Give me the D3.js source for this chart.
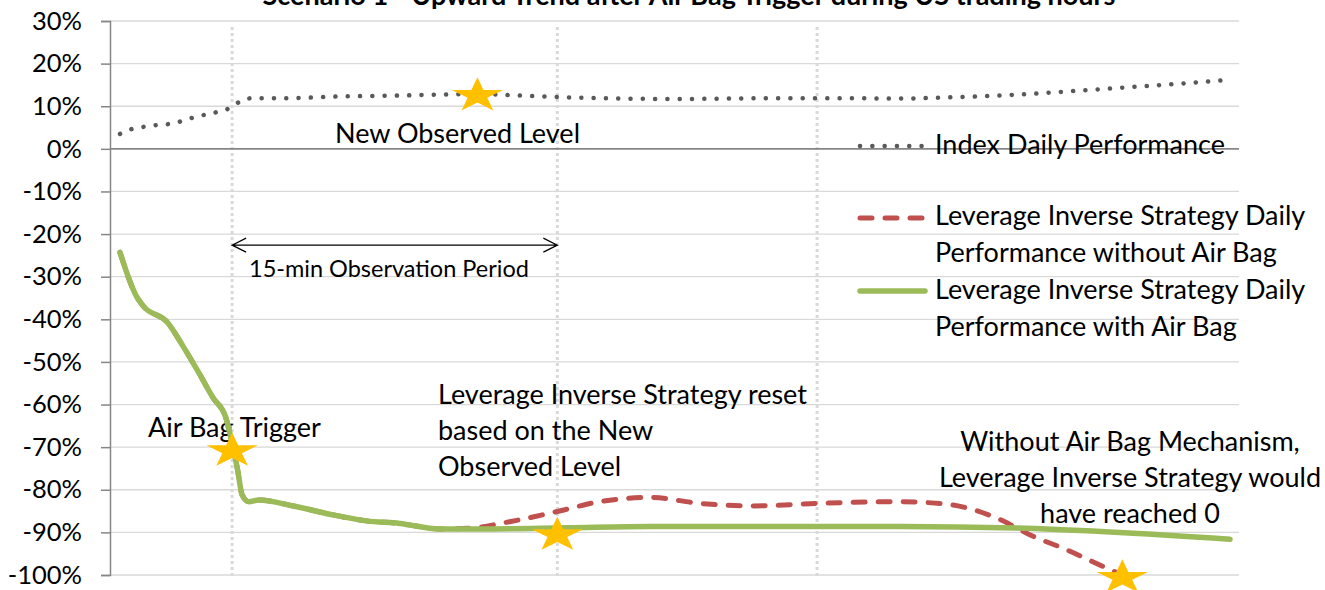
<!DOCTYPE html>
<html>
<head>
<meta charset="utf-8">
<title>Scenario 1 - Upward Trend after Air Bag Trigger</title>
<script src="https://cdn.jsdelivr.net/npm/d3@7"></script>
<style>
  body { margin: 0; background: #fff; }
  text { font-family: Lato, "Open Sans", sans-serif; fill: #000; }
</style>
</head>
<body>
<div id="container"></div>
<script>
// Chart size
const width = 1325;
const height = 590;

// Data (x = time step 0..100, y = performance in %)
const indexSteps = [0, 1, 2, 3, 4, 5, 6, 7, 8, 9, 10, 11, 12, 15, 20, 25, 30, 32, 35, 40, 45, 50, 55, 60, 65, 70, 75, 80, 85, 90, 95, 100];
const indexPerf = [3.5, 4.6, 5.1, 5.5, 5.7, 6.1, 6.9, 7.6, 8.2, 8.8, 9.7, 11.4, 11.9, 11.9, 12.3, 12.5, 12.8, 12.9, 12.6, 12.1, 11.8, 11.7, 11.8, 11.9, 11.9, 11.8, 12.1, 12.6, 13.4, 14.3, 15.2, 16.2];

const noBagSteps = [0, 1.5, 2.1, 4.3, 5.7, 7.2, 8.4, 9.5, 10.1, 10.6, 11, 11.6, 12.5, 15.6, 19.2, 22.2, 25.2, 28.8, 31.5, 35.1, 39.4, 43.2, 47.7, 52.3, 57, 62.8, 70.3, 72.7, 75.7, 79.3, 82, 85.3, 88.9, 90.3];
const noBagPerf = [-24.3, -34.7, -36.9, -40.8, -46.4, -53, -58.5, -62.8, -69.1, -75.4, -81.2, -82.8, -82.4, -83.8, -85.9, -87.3, -87.9, -89.2, -89.0, -87.5, -85.1, -82.8, -81.8, -83.2, -83.8, -83.2, -82.8, -83.0, -83.9, -87.0, -90.6, -94.1, -98.4, -100];

const withBagSteps = [0, 1.5, 2.1, 4.3, 5.7, 7.2, 8.4, 9.5, 10.1, 10.6, 11, 11.6, 12.5, 15.6, 19.2, 22.2, 25.2, 28.8, 32.7, 40.3, 47.7, 70.3, 80.8, 100];
const withBagPerf = [-24.3, -34.7, -36.9, -40.8, -46.4, -53, -58.5, -62.8, -69.1, -75.4, -81.2, -82.8, -82.4, -83.8, -85.9, -87.3, -87.9, -89.2, -89.2, -88.9, -88.6, -88.6, -89.0, -91.6];

// trigger, end of observation period, other vertical marker
const markerSteps = [10.1, 39.4, 62.8];

// stars
const starSteps = [10.1, 32.2, 39.4, 90.3];
const starPerf = [-70.9, 12.5, -90.6, -100.6];

const yTicks = [30, 20, 10, 0, -10, -20, -30, -40, -50, -60, -70, -80, -90, -100];

const svg = d3.create("svg")
    .attr("width", width)
    .attr("height", height);

const x = d3.scaleLinear().domain([0, 100]).range([120, 1230]);
const y = d3.scaleLinear().domain([-100, 30]).range([575, 21]);
const plotLeft = 110, plotRight = 1239;

// Title (cut off at the top like the original)
svg.append("text")
    .attr("x", 689)
    .attr("y", 5)
    .attr("text-anchor", "middle")
    .style("font-size", "27px")
    .style("font-weight", "bold")
    .text("Scenario 1 - Upward Trend after Air Bag Trigger during US trading hours");

// horizontal gridlines
svg.append("g")
    .selectAll("line")
    .data(yTicks.filter(d => d !== 0))
    .join("line")
    .attr("x1", plotLeft)
    .attr("x2", plotRight)
    .attr("y1", d => y(d))
    .attr("y2", d => y(d))
    .attr("stroke", "#d9d9d9")
    .attr("stroke-width", 1.3);

// vertical dotted markers
svg.append("g")
    .selectAll("line")
    .data(markerSteps)
    .join("line")
    .attr("x1", d => x(d))
    .attr("x2", d => x(d))
    .attr("y1", 27)
    .attr("y2", 579)
    .attr("stroke", "#d9d9d9")
    .attr("stroke-width", 3)
    .attr("stroke-dasharray", "3,3");

// y axis
const yAxis = d3.axisLeft(y)
    .tickValues(yTicks)
    .tickSize(9)
    .tickFormat(d => d + "%");
const gy = svg.append("g")
    .attr("transform", `translate(${plotLeft},0)`)
    .call(yAxis);
gy.select(".domain").attr("stroke", "#868686").attr("stroke-width", 1.5);
gy.selectAll(".tick line").attr("stroke", "#868686").attr("stroke-width", 1.5);
gy.selectAll(".tick text")
    .attr("x", -28)
    .style("font-size", "25.5px")
    .style("font-family", "Lato, sans-serif")
    .attr("fill", "#000");

// horizontal axis at 0
svg.append("line")
    .attr("x1", plotLeft)
    .attr("x2", plotRight)
    .attr("y1", y(0))
    .attr("y2", y(0))
    .attr("stroke", "#868686")
    .attr("stroke-width", 1.8);

// annotations
const note = (tx, ty, lines, anchor, size) => {
    const t = svg.append("text")
        .attr("x", tx)
        .attr("y", ty)
        .attr("text-anchor", anchor || "start")
        .style("font-size", (size || 27) + "px");
    lines.forEach((l, i) => {
        t.append("tspan").attr("x", tx).attr("dy", i === 0 ? 0 : 36).text(l);
    });
};

note(335, 143, ["New Observed Level"]);
note(249, 277, ["15-min Observation Period"], "start", 23.5);
note(148, 437, ["Air Bag Trigger"]);
note(438, 404, ["Leverage Inverse Strategy reset", "based on the New", "Observed Level"]);
note(1130, 451, ["Without Air Bag Mechanism,", "Leverage Inverse Strategy would", "have reached 0"], "middle");

// double arrow for the observation period
const arrowY = y(-22.6);
const ax1 = x(markerSteps[0]), ax2 = x(markerSteps[1]);
svg.append("path")
    .attr("d", `M${ax1},${arrowY}H${ax2}M${ax1 + 14},${arrowY - 7}L${ax1},${arrowY}L${ax1 + 14},${arrowY + 7}M${ax2 - 14},${arrowY - 7}L${ax2},${arrowY}L${ax2 - 14},${arrowY + 7}`)
    .attr("fill", "none")
    .attr("stroke", "#000")
    .attr("stroke-width", 1.2);

// series
const line = d3.line()
    .x(d => x(d[0]))
    .y(d => y(d[1]))
    .curve(d3.curveMonotoneX);

svg.append("path")
    .datum(d3.zip(indexSteps, indexPerf))
    .attr("d", line)
    .attr("fill", "none")
    .attr("stroke", "#595959")
    .attr("stroke-width", 4.5)
    .attr("stroke-linecap", "round")
    .attr("stroke-dasharray", "0.1,12.2");

svg.append("path")
    .datum(d3.zip(noBagSteps, noBagPerf))
    .attr("d", line)
    .attr("fill", "none")
    .attr("stroke", "#C0504D")
    .attr("stroke-width", 5)
    .attr("stroke-linecap", "round")
    .attr("stroke-dasharray", "12,13");

svg.append("path")
    .datum(d3.zip(withBagSteps, withBagPerf))
    .attr("d", line)
    .attr("fill", "none")
    .attr("stroke", "#9BBB59")
    .attr("stroke-width", 5.5)
    .attr("stroke-linecap", "round")
    .attr("stroke-linejoin", "round");

// stars (wider than tall, like the original markers)
function starPath(rx, ry) {
    const pts = [];
    for (let i = 0; i < 10; i++) {
        const a = -Math.PI / 2 + i * Math.PI / 5;
        const r = i % 2 === 0 ? 1 : 0.382;
        pts.push([Math.cos(a) * r * rx, Math.sin(a) * r * ry]);
    }
    return "M" + pts.map(p => p.join(",")).join("L") + "Z";
}
svg.append("g")
    .selectAll("path")
    .data(d3.zip(starSteps, starPerf))
    .join("path")
    .attr("d", starPath(27, 18.3))
    .attr("transform", d => `translate(${x(d[0])},${y(d[1])})`)
    .attr("fill", "#FFC000");

// legend
const legendItems = [
    { lines: ["Index Daily Performance"], color: "#595959", w: 4.5, dash: "0.1,12.2", sy: 146, ty: 154 },
    { lines: ["Leverage Inverse Strategy Daily", "Performance without Air Bag"], color: "#C0504D", w: 5, dash: "12,13", sy: 218, ty: 225 },
    { lines: ["Leverage Inverse Strategy Daily", "Performance with Air Bag"], color: "#9BBB59", w: 5.5, dash: null, sy: 291, ty: 299 }
];
const legend = svg.append("g");
legendItems.forEach(it => {
    legend.append("line")
        .attr("x1", 860)
        .attr("x2", 925)
        .attr("y1", it.sy)
        .attr("y2", it.sy)
        .attr("stroke", it.color)
        .attr("stroke-width", it.w)
        .attr("stroke-linecap", "round")
        .attr("stroke-dasharray", it.dash);
    const t = legend.append("text")
        .attr("x", 935)
        .attr("y", it.ty)
        .style("font-size", "27px");
    it.lines.forEach((l, i) => {
        t.append("tspan").attr("x", 935).attr("dy", i === 0 ? 0 : 37).text(l);
    });
});

container.append(svg.node());
</script>
</body>
</html>
